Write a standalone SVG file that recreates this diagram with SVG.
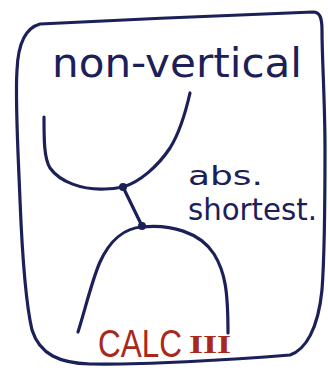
<svg xmlns="http://www.w3.org/2000/svg" width="328" height="371" viewBox="0 0 328 371">
<style>
.ink{fill:none;stroke:#1b2058;stroke-width:3.2;stroke-linecap:round;stroke-linejoin:round}
.hand{fill:#1b2058;font-family:"DejaVu Sans","Liberation Sans",sans-serif}
.red{fill:#a8291c}
</style>
<rect width="328" height="371" fill="#ffffff"/>
<g id="frame">
<path class="ink" d="M40,24 C120,20 250,14 313,12 C320,12 322,18 322,30 C322,60 325,100 325,150 C325,200 325,250 322,290 C318,330 305,350 290,355 C230,360 140,365 90,364 C60,363 40,355 32,330 C25,300 22,250 20,200 C18,150 15,100 17,70 C18,45 25,28 40,24 Z"/>
</g>
<g id="title">
<text class="hand" x="52" y="77" font-size="40" textLength="250" lengthAdjust="spacingAndGlyphs">non-vertical</text>
</g>
<g id="upper-curve">
<path class="ink" d="M44,117 C44,140 44,158 50,168 C60,182 82,190 105,189 C112,189 118,188 123,187 C140,182 158,166 170,148 C180,132 185,115 190,93"/>
</g>
<g id="lower-curve">
<path class="ink" d="M78,332 C85,310 92,280 100,262 C110,240 125,228 142,227 C170,224 200,232 214,254 C225,272 228,290 228,333"/>
</g>
<g id="connectors">
<line class="ink" x1="123" y1="187" x2="142" y2="226" stroke-width="4"/>
<circle cx="123" cy="187" r="4" fill="#1b2058"/>
<circle cx="142" cy="226" r="4" fill="#1b2058"/>
</g>
<g id="label">
<text class="hand" x="188" y="185" font-size="27" textLength="75" lengthAdjust="spacingAndGlyphs">abs.</text>
<text class="hand" x="188" y="220" font-size="30" textLength="129" lengthAdjust="spacingAndGlyphs">shortest.</text>
</g>
<g id="course">
<text class="red" x="98" y="297.5" transform="scale(1,1.2)" font-family="Liberation Sans, sans-serif" font-size="32" textLength="84" lengthAdjust="spacingAndGlyphs">CALC</text>
<text class="red" x="189" y="353" font-family="Liberation Serif, serif" font-size="25" font-weight="bold" textLength="42" lengthAdjust="spacingAndGlyphs">III</text>
</g>
</svg>
